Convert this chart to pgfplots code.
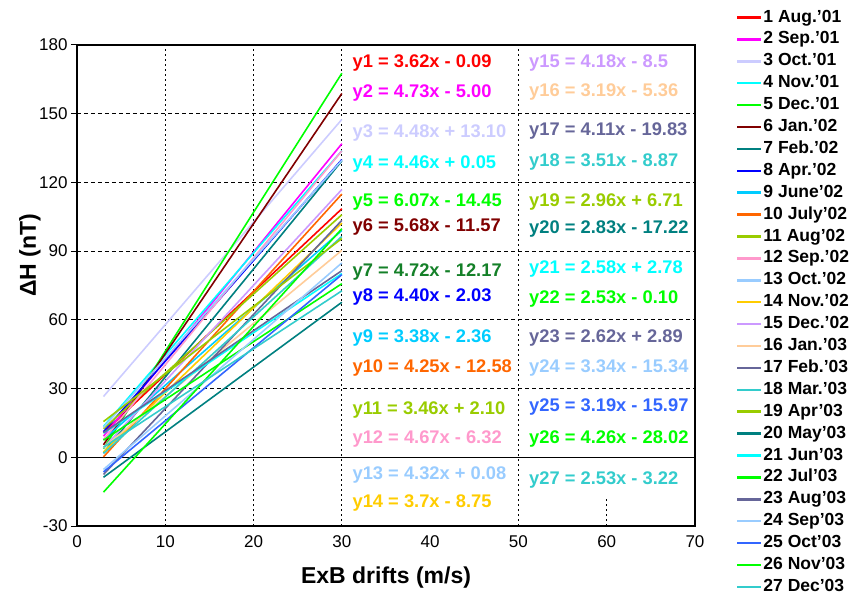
\documentclass[border=0pt]{standalone}
\usepackage{fontspec}
\setmainfont{Liberation Sans}
\usepackage{pgfplots}
\pgfplotsset{compat=1.18}
\definecolor{c1}{RGB}{255,0,0}
\definecolor{c2}{RGB}{255,0,255}
\definecolor{c3}{RGB}{204,204,255}
\definecolor{c4}{RGB}{0,255,255}
\definecolor{c5}{RGB}{0,255,0}
\definecolor{c6}{RGB}{128,0,0}
\definecolor{c7}{RGB}{0,128,128}
\definecolor{c7t}{RGB}{20,128,40}
\definecolor{c8}{RGB}{0,0,255}
\definecolor{c9}{RGB}{0,204,255}
\definecolor{c10}{RGB}{255,102,0}
\definecolor{c11}{RGB}{153,204,0}
\definecolor{c12}{RGB}{255,153,204}
\definecolor{c13}{RGB}{153,204,255}
\definecolor{c14}{RGB}{255,204,0}
\definecolor{c15}{RGB}{204,153,255}
\definecolor{c16}{RGB}{255,204,153}
\definecolor{c17}{RGB}{102,102,153}
\definecolor{c18}{RGB}{51,204,204}
\definecolor{c19}{RGB}{153,204,0}
\definecolor{c20}{RGB}{0,128,128}
\definecolor{c21}{RGB}{0,255,255}
\definecolor{c22}{RGB}{0,255,0}
\definecolor{c23}{RGB}{102,102,153}
\definecolor{c24}{RGB}{153,204,255}
\definecolor{c25}{RGB}{51,102,255}
\definecolor{c26}{RGB}{0,255,0}
\definecolor{c27}{RGB}{51,204,204}
\begin{document}
\begin{tikzpicture}
\begin{axis}[
  at={(77pt,69pt)}, anchor=south west,
  scale only axis, width=618pt, height=481pt,
  xmin=0, xmax=70, ymin=-30, ymax=180,
  xtick={0,10,...,70}, ytick={-30,0,...,180},
  axis line style={line width=2pt, black},
  /pgf/number format/assume math mode=true,
  ticklabel style={font=\fontsize{17}{20}\selectfont},
  ymajorgrids,
  grid style={black, dash pattern=on 4pt off 3pt, line width=0.9pt},
  tick pos=left, tick align=outside, major tick length=6pt,
  xtick style={draw=none},
  ytick style={black, line width=1pt},
  xlabel={\bfseries ExB drifts (m/s)},
  ylabel={\bfseries ΔH (nT)},
  xlabel style={font=\fontsize{23}{26}\selectfont, at={(axis description cs:0.5,-0.108)}, anchor=center},
  ylabel style={font=\fontsize{23}{26}\selectfont, at={(axis description cs:-0.076,0.563)}, anchor=center},
  legend cell align=left,
  legend style={at={(1.0663,1.079)}, anchor=north west, draw=none, fill=none,
    inner sep=0pt, outer sep=0pt, row sep=0.9pt,
    font=\fontsize{17.5}{21}\selectfont\bfseries,
    /tikz/every even column/.append style={column sep=3pt},
    nodes={inner sep=1pt, text height=14pt, text depth=5pt}},
  legend image code/.code={\draw[#1, line width=2.5pt] (0pt,0pt) -- (24pt,0pt);},
  every axis plot/.append style={line width=1.6pt},
]
\draw[black, dash pattern=on 2pt off 3pt, line width=1pt] (axis cs:10,-30) -- (axis cs:10,180);
\draw[black, dash pattern=on 2pt off 3pt, line width=1pt] (axis cs:20,-30) -- (axis cs:20,180);
\draw[black, dash pattern=on 2pt off 3pt, line width=1pt] (axis cs:30,-30) -- (axis cs:30,180);
\draw[black, dash pattern=on 2pt off 3pt, line width=1pt] (axis cs:50,-30) -- (axis cs:50,180);
\draw[black, dash pattern=on 2pt off 3pt, line width=1pt] (axis cs:60,-30) -- (axis cs:60,-17);
\draw[black, line width=1pt] (axis cs:0,0) -- (axis cs:70,0);

\addplot[c1]  coordinates {(3,10.77) (30,108.51)}; \addlegendentry{1 Aug.'01}
\addplot[c2]  coordinates {(3,9.19) (30,136.90)}; \addlegendentry{2 Sep.'01}
\addplot[c3]  coordinates {(3,26.54) (30,147.50)}; \addlegendentry{3 Oct.'01}
\addplot[c4]  coordinates {(3,13.43) (30,133.85)}; \addlegendentry{4 Nov.'01}
\addplot[c5]  coordinates {(3,3.76) (30,167.65)}; \addlegendentry{5 Dec.'01}
\addplot[c6]  coordinates {(3,5.47) (30,158.83)}; \addlegendentry{6 Jan.'02}
\addplot[c7]  coordinates {(3,1.99) (30,129.43)}; \addlegendentry{7 Feb.'02}
\addplot[c8]  coordinates {(3,11.17) (30,129.97)}; \addlegendentry{8 Apr.'02}
\addplot[c9]  coordinates {(3,7.78) (30,99.04)}; \addlegendentry{9 June'02}
\addplot[c10] coordinates {(3,0.17) (30,114.92)}; \addlegendentry{10 July'02}
\addplot[c11] coordinates {(3,12.48) (30,105.90)}; \addlegendentry{11 Aug'02}
\addplot[c12] coordinates {(3,7.69) (30,133.78)}; \addlegendentry{12 Sep.'02}
\addplot[c13] coordinates {(3,13.04) (30,129.68)}; \addlegendentry{13 Oct.'02}
\addplot[c14] coordinates {(3,2.35) (30,102.25)}; \addlegendentry{14 Nov.'02}
\addplot[c15] coordinates {(3,4.04) (30,116.90)}; \addlegendentry{15 Dec.'02}
\addplot[c16] coordinates {(3,4.21) (30,90.34)}; \addlegendentry{16 Jan.'03}
\addplot[c17] coordinates {(3,-7.50) (30,103.47)}; \addlegendentry{17 Feb.'03}
\addplot[c18] coordinates {(3,1.66) (30,96.43)}; \addlegendentry{18 Mar.'03}
\addplot[c19] coordinates {(3,15.59) (30,95.51)}; \addlegendentry{19 Apr'03}
\addplot[c20] coordinates {(3,-8.73) (30,67.68)}; \addlegendentry{20 May'03}
\addplot[c21] coordinates {(3,10.52) (30,80.18)}; \addlegendentry{21 Jun'03}
\addplot[c22] coordinates {(3,7.49) (30,75.80)}; \addlegendentry{22 Jul'03}
\addplot[c23] coordinates {(3,10.75) (30,81.49)}; \addlegendentry{23 Aug'03}
\addplot[c24] coordinates {(3,-5.32) (30,84.86)}; \addlegendentry{24 Sep'03}
\addplot[c25] coordinates {(3,-6.40) (30,79.73)}; \addlegendentry{25 Oct'03}
\addplot[c26] coordinates {(3,-15.24) (30,99.78)}; \addlegendentry{26 Nov'03}
\addplot[c27] coordinates {(3,4.37) (30,72.68)}; \addlegendentry{27 Dec'03}

\begin{scope}[every node/.style={anchor=west, font=\fontsize{18.3}{20}\selectfont\bfseries, inner sep=0pt}]
\node[text=c1]  at (axis cs:31.2,172.1) {y1 = 3.62x - 0.09};
\node[text=c2]  at (axis cs:31.2,159.0) {y2 = 4.73x - 5.00};
\node[text=c3]  at (axis cs:31.2,141.5) {y3 = 4.48x + 13.10};
\node[text=c4]  at (axis cs:31.2,128.0) {y4 = 4.46x + 0.05};
\node[text=c5]  at (axis cs:31.2,111.4) {y5 = 6.07x - 14.45};
\node[text=c6]  at (axis cs:31.2,100.4) {y6 = 5.68x - 11.57};
\node[text=c7t] at (axis cs:31.2,80.8) {y7 = 4.72x - 12.17};
\node[text=c8]  at (axis cs:31.2,69.9) {y8 = 4.40x - 2.03};
\node[text=c9]  at (axis cs:31.2,52.0) {y9 = 3.38x - 2.36};
\node[text=c10] at (axis cs:31.2,38.9) {y10 = 4.25x - 12.58};
\node[text=c11] at (axis cs:31.2,20.5) {y11 = 3.46x + 2.10};
\node[text=c12] at (axis cs:31.2,7.9) {y12 = 4.67x - 6.32};
\node[text=c13] at (axis cs:31.2,-7.9) {y13 = 4.32x + 0.08};
\node[text=c14] at (axis cs:31.2,-20.1) {y14 = 3.7x - 8.75};
\node[text=c15] at (axis cs:51.2,172.1) {y15 = 4.18x - 8.5};
\node[text=c16] at (axis cs:51.2,159.4) {y16 = 3.19x - 5.36};
\node[text=c17] at (axis cs:51.2,142.4) {y17 = 4.11x - 19.83};
\node[text=c18] at (axis cs:51.2,128.8) {y18 = 3.51x - 8.87};
\node[text=c19] at (axis cs:51.2,111.4) {y19 = 2.96x + 6.71};
\node[text=c20] at (axis cs:51.2,99.6) {y20 = 2.83x - 17.22};
\node[text=c21] at (axis cs:51.2,82.1) {y21 = 2.58x + 2.78};
\node[text=c22] at (axis cs:51.2,69.0) {y22 = 2.53x - 0.10};
\node[text=c23] at (axis cs:51.2,52.0) {y23 = 2.62x + 2.89};
\node[text=c24] at (axis cs:51.2,38.9) {y24 = 3.34x - 15.34};
\node[text=c25] at (axis cs:51.2,21.8) {y25 = 3.19x - 15.97};
\node[text=c26] at (axis cs:51.2,7.9) {y26 = 4.26x - 28.02};
\node[text=c27] at (axis cs:51.2,-10.0) {y27 = 2.53x - 3.22};
\end{scope}
\end{axis}
\pgfresetboundingbox
\path (0pt,0pt) rectangle (852pt,595pt);
\end{tikzpicture}
\end{document}
